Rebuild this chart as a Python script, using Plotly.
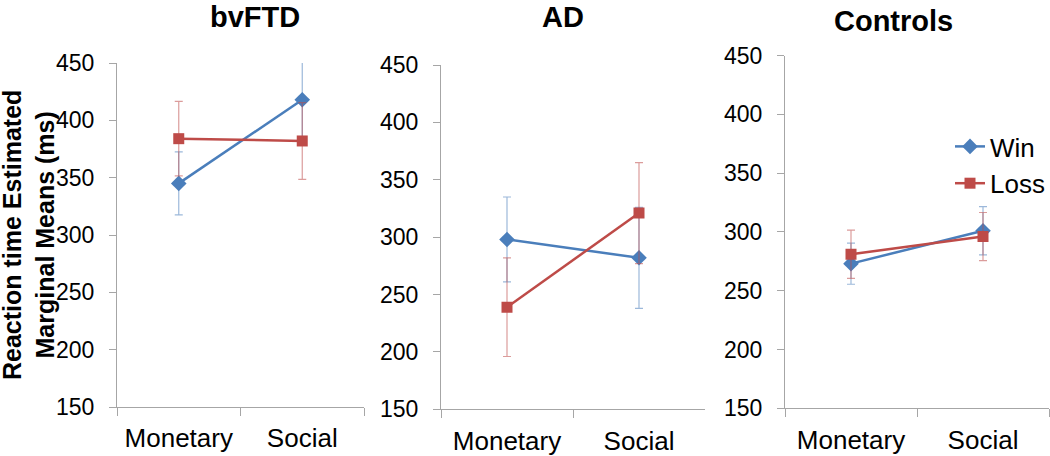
import plotly.graph_objects as go

conditions = ["Monetary", "Social"]
group_names = ["bvFTD", "AD", "Controls"]
series_names = ["Win", "Loss"]

bvftd_win = [345, 418]
bvftd_win_err = [27.5, 33]
bvftd_loss = [384, 382]
bvftd_loss_err = [32.5, 33.5]

ad_win = [298, 282]
ad_win_err = [37, 44]
ad_loss = [239, 321]
ad_loss_err = [43, 44]

ctrl_win = [273, 301]
ctrl_win_err = [17.5, 20.5]
ctrl_loss = [281, 296]
ctrl_loss_err = [20.5, 20.5]

y_ticks = [150, 200, 250, 300, 350, 400, 450]

W, H = 1050, 456
FONT = "Arial, Liberation Sans, sans-serif"
BLUE = "#4a7ebb"
RED = "#be4b48"
BLUE_ERR = "rgba(74,126,187,0.55)"
RED_ERR = "rgba(190,75,72,0.55)"
AXIS_COL = "#a6a6a6"

# panel pixel boxes: (left, right, top, bottom)
boxes = [(117, 364, 63, 407), (441, 705, 65, 409.3), (785, 1049, 55.5, 408.3)]

panels = [
    (bvftd_win, bvftd_win_err, bvftd_loss, bvftd_loss_err),
    (ad_win, ad_win_err, ad_loss, ad_loss_err),
    (ctrl_win, ctrl_win_err, ctrl_loss, ctrl_loss_err),
]

fig = go.Figure()
layout = dict(
    width=W, height=H, margin=dict(l=0, r=0, t=0, b=0, autoexpand=False),
    paper_bgcolor="white", plot_bgcolor="white",
    font=dict(family=FONT, color="black"),
    annotations=[],
)

for i, (win, win_err, loss, loss_err) in enumerate(panels):
    n = "" if i == 0 else str(i + 1)
    xa, ya = "x" + n, "y" + n
    show = i == 2
    fig.add_trace(go.Scatter(
        x=conditions, y=win, xaxis=xa, yaxis=ya, name=series_names[0],
        mode="lines+markers", showlegend=show,
        line=dict(color=BLUE, width=2.5),
        marker=dict(symbol="diamond", size=12, color=BLUE),
        error_y=dict(type="data", array=win_err, color=BLUE_ERR, thickness=1.2, width=4),
    ))
    fig.add_trace(go.Scatter(
        x=conditions, y=loss, xaxis=xa, yaxis=ya, name=series_names[1],
        mode="lines+markers", showlegend=show,
        line=dict(color=RED, width=2.5),
        marker=dict(symbol="square", size=11, color=RED),
        error_y=dict(type="data", array=loss_err, color=RED_ERR, thickness=1.2, width=4),
    ))
    l, r, t, b = boxes[i]
    layout["xaxis" + n] = dict(
        domain=[l / W, r / W], anchor=ya, type="category", range=[-0.5, 1.5],
        showline=True, linecolor=AXIS_COL, linewidth=1,
        ticks="outside", ticklen=8, tickcolor=AXIS_COL, tickson="boundaries",
        showgrid=False, zeroline=False, automargin=False,
        tickfont=dict(size=26, family=FONT, color="black"),
        ticklabelstandoff=8,
    )
    layout["yaxis" + n] = dict(
        domain=[(H - b) / H, (H - t) / H], anchor=xa, range=[150, 450],
        tickvals=y_ticks, automargin=False,
        showline=True, linecolor=AXIS_COL, linewidth=1,
        ticks="outside", ticklen=7, tickcolor=AXIS_COL,
        showgrid=False, zeroline=False,
        tickfont=dict(size=23, family=FONT, color="black"),
        ticklabelstandoff=10,
    )

title_pos = [(255, 17), (563, 17), (893, 21)]
for name, (px, py) in zip(group_names, title_pos):
    layout["annotations"].append(dict(
        text="<b>%s</b>" % name, x=px / W, y=1 - py / H, xref="paper", yref="paper",
        xanchor="center", yanchor="middle", showarrow=False,
        font=dict(size=29, family=FONT, color="black"),
    ))

layout["annotations"].append(dict(
    text="<b>Reaction time Estimated<br>Marginal Means (ms)</b>",
    x=28 / W, y=1 - 235 / H, xref="paper", yref="paper",
    xanchor="center", yanchor="middle", showarrow=False, textangle=-90,
    font=dict(size=25, family=FONT, color="black"),
))

layout["legend"] = dict(
    x=1.0, y=1 - 123 / H, xanchor="right", yanchor="top",
    bgcolor="rgba(0,0,0,0)", font=dict(size=26, family=FONT, color="black"),
    itemwidth=30, tracegroupgap=0,
)

fig.update_layout(**layout)
fig.write_html(
    "out.html",
    config={"displayModeBar": False},
    post_script="document.body.style.margin='0';document.body.style.overflow='hidden';",
)
